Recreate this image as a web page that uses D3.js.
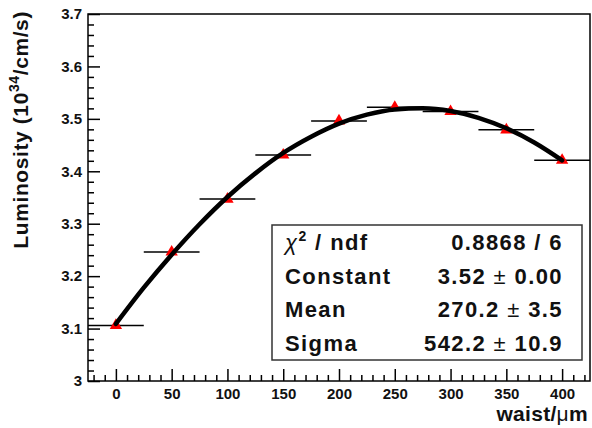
<!DOCTYPE html>
<html>
<head>
    <title>Luminosity vs waist</title>
    <style>
        body { margin: 0; background: #fff; }
        svg { display: block; font-family: "Liberation Sans", Arial, sans-serif; font-weight: bold; }
    </style>
</head>
<body>
    <svg id="chart" width="592" height="428"></svg>

    <script src="https://d3js.org/d3.v7.min.js"></script>
    <script>
        // measured points (waist in um, luminosity in 10^34/cm/s)
        const waist = [0, 50, 100, 150, 200, 250, 300, 350, 400];
        const lumi = [3.106, 3.246, 3.347, 3.431, 3.496, 3.522, 3.514, 3.479, 3.421];
        const waistErr = 25;

        // fit curve
        const fitX = [0, 25, 50, 75, 100, 125, 150, 175, 200, 225, 250, 275, 300, 325, 350, 375, 400];
        const fitY = [3.109, 3.178, 3.241, 3.299, 3.351, 3.396, 3.435, 3.466, 3.491, 3.508, 3.518, 3.520, 3.515, 3.502, 3.482, 3.455, 3.421];

        const xTicks = [0, 50, 100, 150, 200, 250, 300, 350, 400];
        const yTicks = [3, 3.1, 3.2, 3.3, 3.4, 3.5, 3.6, 3.7];
        const yTickLabels = ["3", "3.1", "3.2", "3.3", "3.4", "3.5", "3.6", "3.7"];

        const statNames = ["ndf", "Constant", "Mean", "Sigma"];
        const statValues = ["0.8868 / 6", "3.52", "270.2", "542.2"];
        const statErrors = [null, "0.00", "3.5", "10.9"];

        const svg = d3.select("#chart");
        const pLeft = 88, pRight = 590, pTop = 14, pBottom = 381;

        const x = d3.scaleLinear().domain([-25, 425]).range([pLeft, pRight]);
        const y = d3.scaleLinear().domain([3, 3.7]).range([pBottom, pTop]);

        svg.append("defs").append("clipPath").attr("id", "frame")
            .append("rect")
            .attr("x", pLeft).attr("y", pTop)
            .attr("width", pRight - pLeft).attr("height", pBottom - pTop);

        const styleLabels = g => g.selectAll("text")
            .attr("font-size", 15).attr("font-family", "Liberation Sans")
            .attr("font-weight", "bold").attr("fill", "#111");

        // x axis: major + minor ticks pointing up
        const xMinor = d3.range(-20, 421, 10).filter(v => v % 50 !== 0);
        svg.append("g")
            .attr("transform", `translate(0,${pBottom})`)
            .call(d3.axisBottom(x).tickValues(xMinor).tickSizeInner(-6).tickSizeOuter(0).tickFormat(""))
            .call(g => g.select(".domain").remove());
        svg.append("g")
            .attr("transform", `translate(0,${pBottom})`)
            .call(d3.axisBottom(x).tickValues(xTicks).tickSizeInner(-12).tickSizeOuter(0).tickPadding(7))
            .call(g => g.select(".domain").remove())
            .call(styleLabels);

        // y axis
        const yMinor = d3.range(3.02, 3.7, 0.02).filter(v => Math.abs(v * 10 - Math.round(v * 10)) > 0.01);
        svg.append("g")
            .attr("transform", `translate(${pLeft},0)`)
            .call(d3.axisLeft(y).tickValues(yMinor).tickSizeInner(-6).tickSizeOuter(0).tickFormat(""))
            .call(g => g.select(".domain").remove());
        svg.append("g")
            .attr("transform", `translate(${pLeft},0)`)
            .call(d3.axisLeft(y).tickValues(yTicks).tickSizeInner(-12).tickSizeOuter(0).tickPadding(6)
                .tickFormat((d, i) => yTickLabels[i]))
            .call(g => g.select(".domain").remove())
            .call(styleLabels);

        svg.selectAll(".tick line").attr("stroke", "#000").attr("stroke-width", 1.5);

        // frame
        svg.append("rect")
            .attr("x", pLeft).attr("y", pTop)
            .attr("width", pRight - pLeft).attr("height", pBottom - pTop)
            .attr("fill", "none").attr("stroke", "#000").attr("stroke-width", 1.5);

        const plot = svg.append("g").attr("clip-path", "url(#frame)");

        // horizontal error bars
        plot.selectAll("line.err")
            .data(waist)
            .join("line")
            .attr("class", "err")
            .attr("x1", d => x(d - waistErr))
            .attr("x2", d => x(d + waistErr))
            .attr("y1", (d, i) => y(lumi[i]))
            .attr("y2", (d, i) => y(lumi[i]))
            .attr("stroke", "#000").attr("stroke-width", 1.5);

        // markers
        plot.selectAll("path.pt")
            .data(waist)
            .join("path")
            .attr("class", "pt")
            .attr("d", d3.symbol(d3.symbolTriangle, 66))
            .attr("transform", (d, i) => `translate(${x(d)},${y(lumi[i])})`)
            .attr("fill", "#ff0000");

        // fit
        const line = d3.line()
            .x((d, i) => x(fitX[i]))
            .y(d => y(d))
            .curve(d3.curveMonotoneX);
        plot.append("path")
            .datum(fitY)
            .attr("d", line)
            .attr("fill", "none").attr("stroke", "#000").attr("stroke-width", 4.5)
            .attr("stroke-linecap", "round");

        // axis titles
        svg.append("text")
            .attr("x", 588).attr("y", 421)
            .attr("text-anchor", "end")
            .attr("font-size", 21)
            .attr("letter-spacing", 0.3)
            .attr("fill", "#111")
            .text("waist/")
            .append("tspan").attr("font-weight", "normal").text("μ")
            .append("tspan").attr("font-weight", "bold").text("m");

        const yt = svg.append("text")
            .attr("transform", "translate(28,11) rotate(-90)")
            .attr("text-anchor", "end")
            .attr("font-size", 21)
            .attr("letter-spacing", 0.6)
            .attr("fill", "#111");
        yt.append("tspan").text("Luminosity (10");
        yt.append("tspan").attr("font-size", 14).attr("dy", -9).text("34");
        yt.append("tspan").attr("dy", 9).text("/cm/s)");

        // stats box
        const bx = 272, by = 225, bw = 310, bh = 135;
        svg.append("rect")
            .attr("x", bx).attr("y", by).attr("width", bw).attr("height", bh)
            .attr("fill", "#fff").attr("stroke", "#333").attr("stroke-width", 1.5);

        const rowY = i => by + 25 + i * 33.7;
        statNames.forEach((name, i) => {
            const t = svg.append("text")
                .attr("x", bx + 13).attr("y", rowY(i))
                .attr("font-size", 22).attr("letter-spacing", 1.4).attr("fill", "#111");
            if (i === 0) {
                t.append("tspan").attr("font-weight", "normal").attr("font-style", "italic").text("χ");
                t.append("tspan").attr("font-size", 14).attr("dy", -9).text("2");
                t.append("tspan").attr("dy", 9).text(" / " + name);
            } else {
                t.text(name);
            }
            const v = svg.append("text")
                .attr("x", bx + bw - 19).attr("y", rowY(i))
                .attr("text-anchor", "end")
                .attr("font-size", 22).attr("letter-spacing", 1.4).attr("fill", "#111");
            v.append("tspan").text(statValues[i]);
            if (statErrors[i] !== null) {
                v.append("tspan").attr("font-weight", "normal").text(" ± ");
                v.append("tspan").text(statErrors[i]);
            }
        });
    </script>
</body>
</html>
